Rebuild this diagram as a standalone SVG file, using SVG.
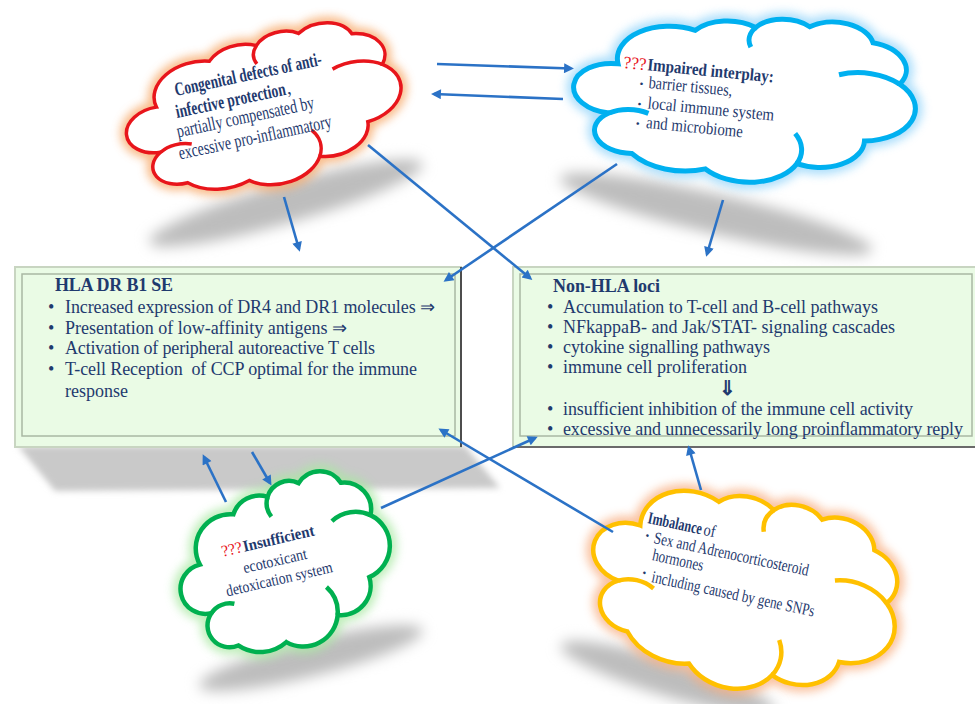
<svg xmlns="http://www.w3.org/2000/svg" xmlns:xlink="http://www.w3.org/1999/xlink" width="975" height="704" viewBox="0 0 975 704">
<style>
.t{font-family:"Liberation Serif","Times New Roman",serif;fill:#1f3a6e}
.b{font-weight:bold}
.q{fill:#e8141c}
.bx{font-size:18px}
.cl{font-size:19px}
.cb{font-size:17.5px}
.cg{font-size:16px}
.cy{font-size:17px}
.conn{fill:none;stroke:#2b72c6;stroke-width:2.6;marker-end:url(#ah)}
.cloud{vector-effect:non-scaling-stroke}
</style>
<defs>
<marker id="ah" viewBox="0 0 10 10" refX="7" refY="5" markerWidth="5" markerHeight="3.8" orient="auto" markerUnits="strokeWidth">
<path d="M0,0 L10,5 L0,10 z" fill="#2b72c6"/>
</marker>
<filter id="glow" x="-20%" y="-20%" width="140%" height="140%"><feGaussianBlur stdDeviation="5"/></filter>
<filter id="sh" x="-30%" y="-60%" width="160%" height="220%"><feGaussianBlur stdDeviation="7"/></filter>
<filter id="sh2" x="-10%" y="-30%" width="120%" height="160%"><feGaussianBlur stdDeviation="3"/></filter>
<path id="cloudOut" class="cloud" d="M9.028 33.264 A15.632 21.273 0 0 1 30.580 9.853 A12.345 16.822 0 0 1 47.810 6.082 A10.104 13.762 0 0 1 63.173 3.896 A11.243 15.266 0 0 1 81.466 11.795 A12.345 16.836 0 0 1 89.706 36.804 A15.683 21.343 0 0 1 80.508 73.458 A13.391 18.211 0 0 1 61.532 89.810 A15.630 21.331 0 0 1 35.543 96.045 A17.870 24.405 0 0 1 14.272 88.750 A10.093 13.699 0 0 1 7.160 64.337 A10.058 13.762 0 0 1 9.028 33.264 Z"/>
<path id="cloudIn" class="cloud" fill="none" d="M72.24 32.89 A15.683 21.343 0 0 1 89.706 36.804 M7.160 64.337 A10.093 13.699 0 0 1 18.45 63.24 M60.62 71.0 A15.630 21.331 0 0 1 61.532 89.810 M46.67 18.52 A10.104 13.762 0 0 1 47.810 6.082"/>
</defs>
<rect width="975" height="704" fill="#ffffff"/>

<g id="shadows" fill="#bdbdbd">
<ellipse cx="286" cy="203" rx="142" ry="20" transform="rotate(-16 286 203)" filter="url(#sh)"/>
<ellipse cx="716" cy="214" rx="160" ry="20" transform="rotate(13 716 214)" filter="url(#sh)"/>
<ellipse cx="311" cy="658" rx="115" ry="18" transform="rotate(-14 311 658)" filter="url(#sh)"/>
<ellipse cx="668" cy="678" rx="112" ry="18" transform="rotate(17 668 678)" filter="url(#sh)"/>
<polygon points="18,446 465,446 500,488 55,491" fill="#c9c9c9" filter="url(#sh2)"/>
</g>

<g id="hla-box">
<rect x="15" y="267" width="446" height="180" fill="#eafbe5" stroke="#c8d5c1" stroke-width="2"/>
<rect x="22" y="274" width="433" height="162" fill="none" stroke="#a9b8a3" stroke-width="1.5"/>
<line x1="461" y1="267" x2="461" y2="447" stroke="#4d4d4d" stroke-width="2"/>
<text class="t bx b" x="55" y="291" textLength="118">HLA DR B1 SE</text>
<g class="t bx">
<text x="48" y="313">•</text><text x="65" y="313" textLength="370">Increased expression of DR4 and DR1 molecules ⇒</text>
<text x="48" y="334">•</text><text x="65" y="334" textLength="282">Presentation of low-affinity antigens ⇒</text>
<text x="48" y="354">•</text><text x="65" y="354" textLength="310">Activation of peripheral autoreactive T cells</text>
<text x="48" y="375">•</text><text x="65" y="375" textLength="352" xml:space="preserve">T-cell Reception  of CCP optimal for the immune</text>
<text x="65" y="397" textLength="63">response</text>
</g>
</g>

<g id="nonhla-box">
<rect x="513" y="267" width="470" height="180" fill="#eafbe5" stroke="#c8d5c1" stroke-width="2"/>
<rect x="520" y="274" width="452" height="162" fill="none" stroke="#a9b8a3" stroke-width="1.5"/>
<line x1="513" y1="447" x2="975" y2="447" stroke="#6a6a6a" stroke-width="2"/>
<text class="t bx b" x="553" y="292" textLength="107">Non-HLA loci</text>
<g class="t bx">
<text x="547" y="313">•</text><text x="563" y="313" textLength="315">Accumulation to T-cell and B-cell pathways</text>
<text x="547" y="333">•</text><text x="563" y="333" textLength="332">NFkappaB- and Jak/STAT- signaling cascades</text>
<text x="547" y="353">•</text><text x="563" y="353" textLength="207">cytokine signalling pathways</text>
<text x="547" y="373">•</text><text x="563" y="373" textLength="184">immune cell proliferation</text>
<text x="727" y="395" text-anchor="middle" font-size="20" font-weight="bold">⇓</text>
<text x="547" y="415">•</text><text x="563" y="415" textLength="350">insufficient inhibition of the immune cell activity</text>
<text x="547" y="435">•</text><text x="563" y="435" textLength="400">excessive and unnecessarily long proinflammatory reply</text>
</g>
</g>

<g id="cloud-congenital">
<g filter="url(#glow)" opacity="0.75"><use href="#cloudOut" transform="translate(270,110) rotate(-12) scale(2.85,1.45) translate(-47.8,-51.5)" fill="none" stroke="#f6a05a" stroke-width="12"/></g>
<g transform="translate(270,110) rotate(-12) scale(2.85,1.45) translate(-47.8,-51.5)">
<use href="#cloudOut" fill="#ffffff" stroke="#e8151b" stroke-width="3.5"/>
<use href="#cloudIn" stroke="#e8151b" stroke-width="3.5"/>
</g>
<g transform="translate(176,96) rotate(-12)" class="t cl">
<text class="b" x="0" y="0" textLength="150" lengthAdjust="spacingAndGlyphs">Congenital defects of anti-</text>
<text class="b" x="-3.6" y="21.7" textLength="112" lengthAdjust="spacingAndGlyphs">infective protection</text>
<text x="109" y="21.7">,</text>
<text x="-6.6" y="41" textLength="140" lengthAdjust="spacingAndGlyphs">partially compensated by</text>
<text x="-9.4" y="63" textLength="156" lengthAdjust="spacingAndGlyphs">excessive pro-inflammatory</text>
</g>
</g>

<g id="cloud-interplay">
<g filter="url(#glow)" opacity="0.75"><use href="#cloudOut" transform="translate(752,100) rotate(3) scale(3.5,1.6) translate(-47.8,-51.5)" fill="none" stroke="#8fd3fa" stroke-width="14"/></g>
<g transform="translate(752,100) rotate(3) scale(3.5,1.6) translate(-47.8,-51.5)">
<use href="#cloudOut" fill="#ffffff" stroke="#00b0f0" stroke-width="5"/>
<use href="#cloudIn" stroke="#00b0f0" stroke-width="5"/>
</g>
<g transform="translate(623,68) rotate(5.5)" class="t cb">
<text class="q" x="0" y="0" textLength="23" lengthAdjust="spacingAndGlyphs">???</text>
<text class="b" x="24" y="0" textLength="127" lengthAdjust="spacingAndGlyphs">Impaired interplay:</text>
<text x="18" y="17.5" font-size="11">•</text><text x="27" y="17.5" textLength="84" lengthAdjust="spacingAndGlyphs">barrier tissues,</text>
<text x="18" y="38" font-size="11">•</text><text x="28" y="38" textLength="127" lengthAdjust="spacingAndGlyphs">local immune system</text>
<text x="18" y="57.5" font-size="11">•</text><text x="28.5" y="57.5" textLength="97" lengthAdjust="spacingAndGlyphs">and microbiome</text>
</g>
</g>

<g id="cloud-detox">
<g filter="url(#glow)" opacity="0.75"><use href="#cloudOut" transform="translate(290,566) rotate(-18) scale(2.2,1.6) translate(-47.8,-51.5)" fill="none" stroke="#a9e8a2" stroke-width="14"/></g>
<g transform="translate(290,566) rotate(-18) scale(2.2,1.6) translate(-47.8,-51.5)">
<use href="#cloudOut" fill="#ffffff" stroke="#00b050" stroke-width="4.5"/>
<use href="#cloudIn" stroke="#00b050" stroke-width="4.5"/>
</g>
<g transform="translate(270,566) rotate(-13)" class="t cg">
<text class="q" x="-44" y="-19.7" textLength="21" lengthAdjust="spacingAndGlyphs">???</text>
<text class="b" x="-22" y="-19.7" textLength="73" lengthAdjust="spacingAndGlyphs">Insufficient</text>
<text x="6" y="1.3" text-anchor="middle" textLength="65" lengthAdjust="spacingAndGlyphs">ecotoxicant</text>
<text x="6" y="20" text-anchor="middle" textLength="109" lengthAdjust="spacingAndGlyphs">detoxication system</text>
</g>
</g>

<g id="cloud-imbalance">
<g filter="url(#glow)" opacity="0.75"><use href="#cloudOut" transform="translate(750,593) rotate(16) scale(3.2,1.9) translate(-47.8,-51.5)" fill="none" stroke="#f8ad80" stroke-width="14"/></g>
<g transform="translate(750,593) rotate(16) scale(3.2,1.9) translate(-47.8,-51.5)">
<use href="#cloudOut" fill="#ffffff" stroke="#ffc000" stroke-width="4.5"/>
<use href="#cloudIn" stroke="#ffc000" stroke-width="4.5"/>
</g>
<g transform="translate(647,523) rotate(12)" class="t cy">
<text class="b" x="0" y="0" textLength="55" lengthAdjust="spacingAndGlyphs">Imbalance</text>
<text x="57" y="0" textLength="12" lengthAdjust="spacingAndGlyphs">of</text>
<text x="1" y="16" font-size="11">•</text><text x="10" y="18.3" textLength="158" lengthAdjust="spacingAndGlyphs">Sex and Adrenocorticosteroid</text>
<text x="12" y="35.4" textLength="52" lengthAdjust="spacingAndGlyphs">hormones</text>
<text x="6" y="53" font-size="11">•</text><text x="16" y="57" textLength="166" lengthAdjust="spacingAndGlyphs">including caused by gene SNPs</text>
</g>
</g>

<g id="connectors">
<line class="conn" x1="437" y1="64" x2="571" y2="68.5"/>
<line class="conn" x1="563" y1="99" x2="434" y2="94"/>
<line class="conn" x1="284" y1="197" x2="299" y2="249"/>
<line class="conn" x1="368" y1="145" x2="530" y2="278"/>
<line class="conn" x1="617" y1="164" x2="446" y2="280"/>
<line class="conn" x1="723" y1="200" x2="707" y2="254"/>
<line class="conn" x1="226" y1="502" x2="204" y2="457"/>
<line class="conn" x1="252" y1="452" x2="270" y2="483"/>
<line class="conn" x1="381" y1="508" x2="535" y2="438"/>
<line class="conn" x1="613" y1="532" x2="441" y2="430"/>
<line class="conn" x1="701" y1="490" x2="689" y2="448"/>
</g>
</svg>
